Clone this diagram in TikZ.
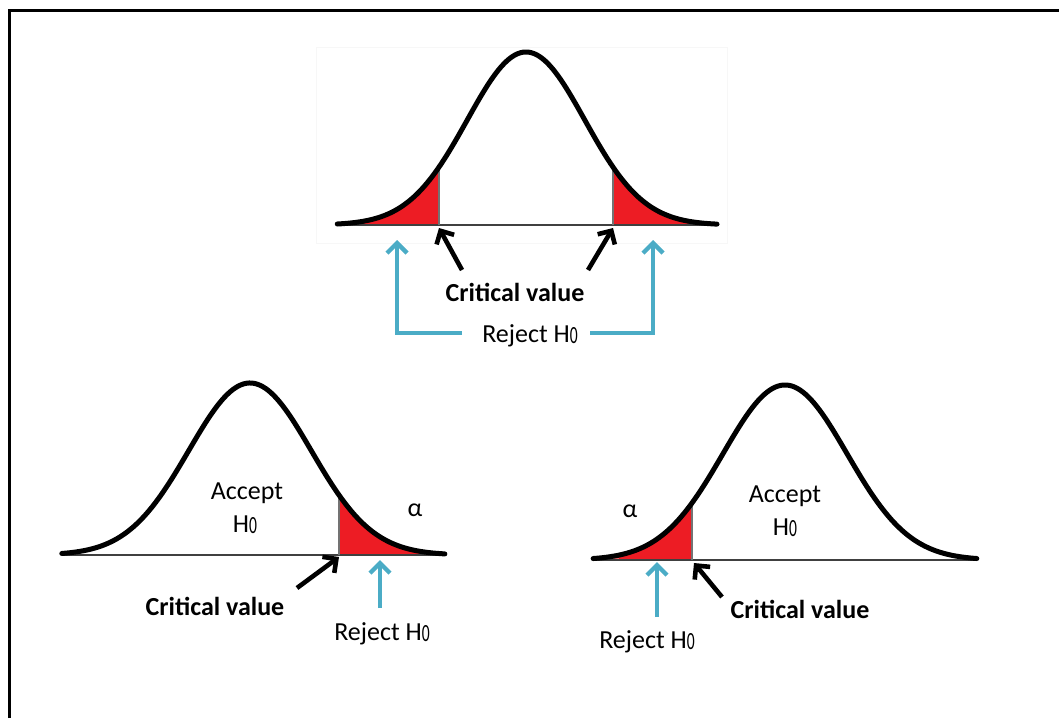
\documentclass[tikz,border=0pt]{standalone}
\usepackage{fontspec}
\usepackage{graphicx}
\setmainfont{Carlito}
\usetikzlibrary{arrows.meta}
\definecolor{redfill}{HTML}{ED1C24}
\definecolor{skyblue}{HTML}{4BACC6}
\newcommand{\Hzero}{H\raisebox{-1.5pt}{\scalebox{0.6}[0.95]{0}}}
\tikzset{
  txt/.style={anchor=base, inner sep=0pt, font=\fontsize{26}{30}\selectfont},
  btxt/.style={txt, font=\fontsize{26}{30}\selectfont\bfseries},
  curve/.style={line width=5pt, black, line cap=round, line join=round},
  axisline/.style={line width=2.2pt, black!75},
  critline/.style={line width=1.2pt, black!55},
  tail/.style={fill=redfill, draw=none},
  blackarrow/.style={line width=4.6pt, black, -{Straight Barb[length=10pt,width=20pt]}},
  bluearrow/.style={line width=4.4pt, skyblue, -{Straight Barb[length=10pt,width=20pt]}},
}
\begin{document}
\begin{tikzpicture}[x=1pt,y=-1pt]
\useasboundingbox (0,0) rectangle (1059,718);
% frame
\draw[line width=3pt] (9.5,718) -- (9.5,10) -- (1059,10);
% faint image border
\draw[line width=1pt, black!3] (316,47) rectangle (727,243);

% ---------- top curve: c=526, s=58.8, H=173, base=225
\fill[tail] plot[domain=-3.2:-1.48, samples=60] ({526+58.8*\x},{225-173*exp(-\x*\x/2)}) -- (439,225) -- cycle;
\fill[tail] plot[domain=1.48:3.2, samples=60] ({526+58.8*\x},{225-173*exp(-\x*\x/2)}) -- (714,225) -- (613,225) -- cycle;
\draw[axisline] (337,225) -- (717,225);
\draw[critline] (439,225) -- (439,{225-173*exp(-1.48*1.48/2)});
\draw[critline] (613,225) -- (613,{225-173*exp(-1.48*1.48/2)});
\draw[curve] plot[domain=-3.21:3.25, samples=140] ({526+58.8*\x},{225-173*exp(-\x*\x/2)});

\node[btxt] (tcv) at (515,301) {Critical value};
\node[txt] (trj) at (530,342) {Reject \Hzero};
\coordinate (tbt1) at (462,270); \coordinate (tbh1) at (439,228);
\coordinate (tbt2) at (588,270); \coordinate (tbh2) at (613,228);
\draw[blackarrow] (tbt1) -- (tbh1);
\draw[blackarrow] (tbt2) -- (tbh2);
\coordinate (tls) at (462,333); \coordinate (tlh) at (397,240);
\coordinate (trs) at (590,333); \coordinate (trh) at (653,240);
\draw[bluearrow] (tls) -| (tlh);
\draw[bluearrow] (trs) -| (trh);

% ---------- bottom-left: c=250, s=61.3, H=172, base=555
\fill[tail] plot[domain=1.45:3.1, samples=60] ({250+61.3*\x},{555-172*exp(-\x*\x/2)}) -- (339,555) -- cycle;
\draw[axisline] (62,555) -- (445,555);
\draw[critline] (339,555) -- (339,{555-172*exp(-1.45*1.45/2)});
\draw[curve] plot[domain=-3.07:3.18, samples=140] ({250+61.3*\x},{555-172*exp(-\x*\x/2)});

\node[txt] (lacc) at (247,499) {Accept};
\node[txt] (lh0) at (245,532) {\Hzero};
\node[txt] (lal) at (415,516) {α};
\node[btxt] (lcv) at (215,615) {Critical value};
\node[txt] (lrj) at (382,640) {Reject \Hzero};
\coordinate (lbt) at (297,588); \coordinate (lbh) at (339,557);
\draw[blackarrow] (lbt) -- (lbh);
\coordinate (lus) at (380,608); \coordinate (luh) at (380,560);
\draw[bluearrow] (lus) -- (luh);

% ---------- bottom-right: c=785, s=62.1, H=175, base=560
\fill[tail] plot[domain=-3.05:-1.5, samples=60] ({785+62.1*\x},{560-175*exp(-\x*\x/2)}) -- (692,560) -- cycle;
\draw[axisline] (593,560) -- (977,560);
\draw[critline] (692,560) -- (692,{560-175*exp(-1.5*1.5/2)});
\draw[curve] plot[domain=-3.09:3.09, samples=140] ({785+62.1*\x},{560-175*exp(-\x*\x/2)});

\node[txt] (racc) at (785,502) {Accept};
\node[txt] (rh0) at (785,535) {\Hzero};
\node[txt] (ral) at (630,517) {α};
\node[btxt] (rcv) at (800,618) {Critical value};
\node[txt] (rrj) at (647,648) {Reject \Hzero};
\coordinate (rbt) at (722,597); \coordinate (rbh) at (694,563);
\draw[blackarrow] (rbt) -- (rbh);
\coordinate (rus) at (657,617); \coordinate (ruh) at (657,562);
\draw[bluearrow] (rus) -- (ruh);
\end{tikzpicture}
\end{document}
